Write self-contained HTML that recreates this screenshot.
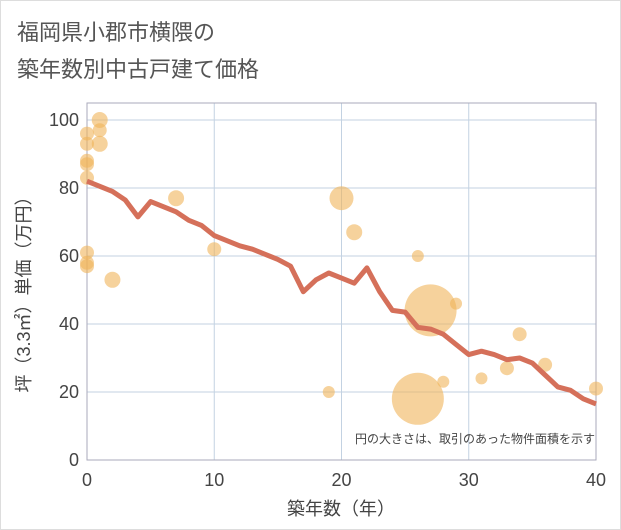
<!DOCTYPE html>
<html><head><meta charset="utf-8"><style>
body{margin:0;background:#fff}
svg{display:block;font-family:"Liberation Sans","Noto Sans CJK JP",sans-serif}
</style></head><body>
<svg width="621" height="530">
<rect x="0.5" y="0.5" width="620" height="529" fill="#fff" stroke="#ddd"/>
<text x="17" y="40" font-size="22" fill="#555">福岡県小郡市横隈の</text>
<text x="17" y="77" font-size="22" fill="#555">築年数別中古戸建て価格</text>
<g id="grid"></g>
<rect x="87" y="103" width="509" height="357" fill="none" stroke="#aab"/>
<g id="bubbles"></g>
<polyline id="line" fill="none" stroke="#d5705a" stroke-width="5" stroke-linejoin="round"/>
<g id="ticks" fill="#444" font-size="18"></g>
<text x="341" y="515" font-size="18" fill="#444" text-anchor="middle">築年数（年）</text>
<text transform="translate(30,290) rotate(-90)" font-size="18" fill="#444" text-anchor="middle">坪（3.3㎡）単価（万円）</text>
<text x="595" y="443" font-size="12" fill="#444" text-anchor="end">円の大きさは、取引のあった物件面積を示す</text>
</svg>
<script>
const xTicks=[0,10,20,30,40];
const yTicks=[0,20,40,60,80,100];
const lineYears=[0,1,2,3,4,5,6,7,8,9,10,11,12,13,14,15,16,17,18,19,20,21,22,23,24,25,26,27,28,29,30,31,32,33,34,35,36,37,38,39,40];
const lineValues=[82,80.5,79,76.5,71.5,76,74.5,73,70.5,69,66,64.5,63,62,60.5,59,57,49.5,53,55,53.5,52,56.5,49.5,44,43.5,39,38.5,37,34,31,32,31,29.5,30,28.5,25,21.5,20.5,18,16.5];
const bubbleX=[0,0,0,0,0,0,0,0,1,1,1,2,7,10,19,20,21,26,26,27,28,29,31,33,34,36,40];
const bubbleY=[96,93,88,87,83,61,58,57,100,97,93,53,77,62,20,77,67,60,18,44,23,46,24,27,37,28,21];
const bubbleR=[7,7,7,7,7,7,7,7,8,7,8,8,8,7,6,12,8,6,26,26,6,6,6,7,7,7,7];
const NS='http://www.w3.org/2000/svg';
const X=v=>87+v*509/40, Y=v=>460-v*3.4;
const grid=document.getElementById('grid'), ticks=document.getElementById('ticks');
xTicks.forEach(t=>{
 const l=document.createElementNS(NS,'line');
 l.setAttribute('x1',X(t));l.setAttribute('x2',X(t));l.setAttribute('y1',103);l.setAttribute('y2',460);l.setAttribute('stroke','#c3d2e2');
 
 
 grid.appendChild(l);
 const s=document.createElementNS(NS,'text');
 s.setAttribute('x',X(t));s.setAttribute('y',486);s.setAttribute('text-anchor','middle');s.textContent=t;
 
 
 ticks.appendChild(s);
});
yTicks.forEach(t=>{
 const l=document.createElementNS(NS,'line');
 l.setAttribute('x1',87);l.setAttribute('x2',596);l.setAttribute('y1',Y(t));l.setAttribute('y2',Y(t));l.setAttribute('stroke','#c3d2e2');
 
 
 grid.appendChild(l);
 const s=document.createElementNS(NS,'text');
 s.setAttribute('x',79);s.setAttribute('y',Y(t)+6);s.setAttribute('text-anchor','end');s.textContent=t;
 
 
 ticks.appendChild(s);
});
const bg=document.getElementById('bubbles');
bubbleX.forEach((x,i)=>{
 const c=document.createElementNS(NS,'circle');
 c.setAttribute('cx',X(x));c.setAttribute('cy',Y(bubbleY[i]));c.setAttribute('r',bubbleR[i]);
 c.setAttribute('fill','rgba(240,180,90,0.6)');
 
 
 bg.appendChild(c);
});
document.getElementById('line').setAttribute('points',lineYears.map((x,i)=>X(x)+','+Y(lineValues[i])).join(' '));
</script>
</body></html>
